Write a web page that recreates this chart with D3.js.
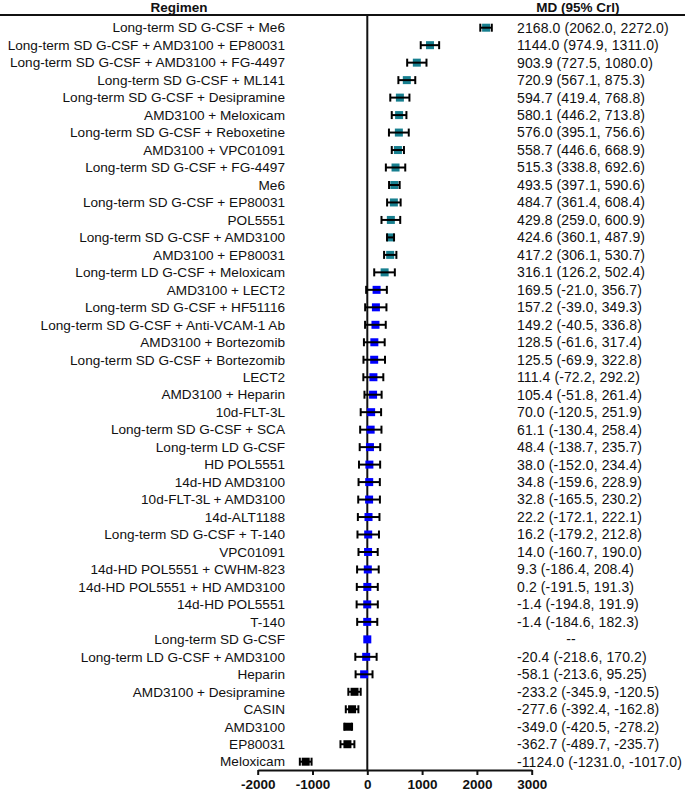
<!DOCTYPE html>
<html>
<head>
<meta charset="utf-8">
<script src="https://cdn.jsdelivr.net/npm/d3@7"></script>
<style>
	body { margin: 0; background: #fff; }
	svg { font-family: Arial, 'Liberation Sans', sans-serif; }
	.label { font-size: 13.6px; fill: #111; }
	.value { font-size: 14px; letter-spacing: 0.1px; fill: #111; }
	.head { font-size: 13.5px; font-weight: bold; fill: #111; }
	.x.axis text { font-size: 13.5px; font-weight: bold; fill: #111; }
	.x.axis path, .x.axis line { stroke: #111; stroke-width: 2px; }
</style>
</head>
<body>
<div id="graphic"></div>
<script>
// regimens, top to bottom
const regimens = [
	'Long-term SD G-CSF + Me6',
	'Long-term SD G-CSF + AMD3100 + EP80031',
	'Long-term SD G-CSF + AMD3100 + FG-4497',
	'Long-term SD G-CSF + ML141',
	'Long-term SD G-CSF + Desipramine',
	'AMD3100 + Meloxicam',
	'Long-term SD G-CSF + Reboxetine',
	'AMD3100 + VPC01091',
	'Long-term SD G-CSF + FG-4497',
	'Me6',
	'Long-term SD G-CSF + EP80031',
	'POL5551',
	'Long-term SD G-CSF + AMD3100',
	'AMD3100 + EP80031',
	'Long-term LD G-CSF + Meloxicam',
	'AMD3100 + LECT2',
	'Long-term SD G-CSF + HF51116',
	'Long-term SD G-CSF + Anti-VCAM-1 Ab',
	'AMD3100 + Bortezomib',
	'Long-term SD G-CSF + Bortezomib',
	'LECT2',
	'AMD3100 + Heparin',
	'10d-FLT-3L',
	'Long-term SD G-CSF + SCA',
	'Long-term LD G-CSF',
	'HD POL5551',
	'14d-HD AMD3100',
	'10d-FLT-3L + AMD3100',
	'14d-ALT1188',
	'Long-term SD G-CSF + T-140',
	'VPC01091',
	'14d-HD POL5551 + CWHM-823',
	'14d-HD POL5551 + HD AMD3100',
	'14d-HD POL5551',
	'T-140',
	'Long-term SD G-CSF',
	'Long-term LD G-CSF + AMD3100',
	'Heparin',
	'AMD3100 + Desipramine',
	'CASIN',
	'AMD3100',
	'EP80031',
	'Meloxicam'
];

// mean difference and 95% credible interval
const md = [2168.0, 1144.0, 903.9, 720.9, 594.7, 580.1, 576.0, 558.7, 515.3, 493.5,
	484.7, 429.8, 424.6, 417.2, 316.1, 169.5, 157.2, 149.2, 128.5, 125.5,
	111.4, 105.4, 70.0, 61.1, 48.4, 38.0, 34.8, 32.8, 22.2, 16.2,
	14.0, 9.3, 0.2, -1.4, -1.4, 0, -20.4, -58.1, -233.2, -277.6,
	-349.0, -362.7, -1124.0];
const lower = [2062.0, 974.9, 727.5, 567.1, 419.4, 446.2, 395.1, 446.6, 338.8, 397.1,
	361.4, 259.0, 360.1, 306.1, 126.2, -21.0, -39.0, -40.5, -61.6, -69.9,
	-72.2, -51.8, -120.5, -130.4, -138.7, -152.0, -159.6, -165.5, -172.1, -179.2,
	-160.7, -186.4, -191.5, -194.8, -184.6, null, -218.6, -213.6, -345.9, -392.4,
	-420.5, -489.7, -1231.0];
const upper = [2272.0, 1311.0, 1080.0, 875.3, 768.8, 713.8, 756.6, 668.9, 692.6, 590.6,
	608.4, 600.9, 487.9, 530.7, 502.4, 356.7, 349.3, 336.8, 317.4, 322.8,
	292.2, 261.4, 251.9, 258.4, 235.7, 234.4, 228.9, 230.2, 222.1, 212.8,
	190.0, 208.4, 191.3, 191.9, 182.3, null, 170.2, 95.25, -120.5, -162.8,
	-278.2, -235.7, -1017.0];
// text shown in the right column
const mdText = ['2168.0 (2062.0, 2272.0)', '1144.0 (974.9, 1311.0)', '903.9 (727.5, 1080.0)',
	'720.9 (567.1, 875.3)', '594.7 (419.4, 768.8)', '580.1 (446.2, 713.8)', '576.0 (395.1, 756.6)',
	'558.7 (446.6, 668.9)', '515.3 (338.8, 692.6)', '493.5 (397.1, 590.6)', '484.7 (361.4, 608.4)',
	'429.8 (259.0, 600.9)', '424.6 (360.1, 487.9)', '417.2 (306.1, 530.7)', '316.1 (126.2, 502.4)',
	'169.5 (-21.0, 356.7)', '157.2 (-39.0, 349.3)', '149.2 (-40.5, 336.8)', '128.5 (-61.6, 317.4)',
	'125.5 (-69.9, 322.8)', '111.4 (-72.2, 292.2)', '105.4 (-51.8, 261.4)', '70.0 (-120.5, 251.9)',
	'61.1 (-130.4, 258.4)', '48.4 (-138.7, 235.7)', '38.0 (-152.0, 234.4)', '34.8 (-159.6, 228.9)',
	'32.8 (-165.5, 230.2)', '22.2 (-172.1, 222.1)', '16.2 (-179.2, 212.8)', '14.0 (-160.7, 190.0)',
	'9.3 (-186.4, 208.4)', '0.2 (-191.5, 191.3)', '-1.4 (-194.8, 191.9)', '-1.4 (-184.6, 182.3)',
	'--', '-20.4 (-218.6, 170.2)', '-58.1 (-213.6, 95.25)', '-233.2 (-345.9, -120.5)',
	'-277.6 (-392.4, -162.8)', '-349.0 (-420.5, -278.2)', '-362.7 (-489.7, -235.7)',
	'-1124.0 (-1231.0, -1017.0)'];
const xTicks = [-2000, -1000, 0, 1000, 2000, 3000];

const width = 685, height = 792;
const data = regimens.map((r, i) => ({ r, md: md[i], lo: lower[i], hi: upper[i], txt: mdText[i] }));

const svg = d3.select('#graphic').append('svg')
	.attr('width', width)
	.attr('height', height);

const x = d3.scaleLinear().domain([-2000, 3000]).range([257.7, 531.7]);
const y = d3.scalePoint().domain(regimens).range([27.7, 761.7]);
const axisY = 770;

// colour by significance
const colour = (d) => d.lo != null && d.lo > 0 ? '#177f8f' : (d.hi != null && d.hi < 0 ? '#000' : '#0000ff');

// header
svg.append('line').attr('x1', 0).attr('x2', width).attr('y1', 15).attr('y2', 15)
	.attr('stroke', '#111').attr('stroke-width', 2);
svg.append('text').attr('class', 'head').attr('x', 179).attr('y', 11.5).attr('text-anchor', 'middle').text('Regimen');
svg.append('text').attr('class', 'head').attr('x', 578).attr('y', 11.5).attr('text-anchor', 'middle').text('MD (95% Crl)');

// zero line
svg.append('line').attr('x1', x(0)).attr('x2', x(0)).attr('y1', 15).attr('y2', axisY)
	.attr('stroke', '#111').attr('stroke-width', 2);

// x axis
svg.append('g')
	.attr('class', 'x axis')
	.attr('transform', 'translate(0,' + axisY + ')')
	.call(d3.axisBottom(x).tickValues(xTicks).tickSize(5).tickSizeOuter(0).tickPadding(4).tickFormat((d) => String(d)));

// labels
svg.append('g').selectAll('text').data(data).join('text')
	.attr('class', 'label')
	.attr('x', 285)
	.attr('y', (d) => y(d.r))
	.attr('dy', '0.35em')
	.attr('text-anchor', 'end')
	.text((d) => d.r);

svg.append('g').selectAll('text').data(data).join('text')
	.attr('class', 'value')
	.attr('x', (d) => d.lo == null ? 571 : 517)
	.attr('y', (d) => y(d.r))
	.attr('dy', '0.35em')
	.attr('text-anchor', (d) => d.lo == null ? 'middle' : 'start')
	.text((d) => d.txt);

// markers
const box = 8;
svg.append('g').selectAll('rect').data(data).join('rect')
	.attr('x', (d) => x(d.md) - box / 2)
	.attr('y', (d) => y(d.r) - box / 2)
	.attr('width', box)
	.attr('height', box)
	.attr('fill', colour);

// error bars
const ci = data.filter((d) => d.lo != null);
const bars = svg.append('g').attr('stroke', '#000').attr('stroke-width', 2);
bars.selectAll('line.ci').data(ci).join('line').attr('class', 'ci')
	.attr('x1', (d) => x(d.lo)).attr('x2', (d) => x(d.hi))
	.attr('y1', (d) => y(d.r)).attr('y2', (d) => y(d.r));
bars.selectAll('line.capl').data(ci).join('line').attr('class', 'capl')
	.attr('x1', (d) => x(d.lo)).attr('x2', (d) => x(d.lo))
	.attr('y1', (d) => y(d.r) - 4).attr('y2', (d) => y(d.r) + 4);
bars.selectAll('line.capr').data(ci).join('line').attr('class', 'capr')
	.attr('x1', (d) => x(d.hi)).attr('x2', (d) => x(d.hi))
	.attr('y1', (d) => y(d.r) - 4).attr('y2', (d) => y(d.r) + 4);
</script>
</body>
</html>
